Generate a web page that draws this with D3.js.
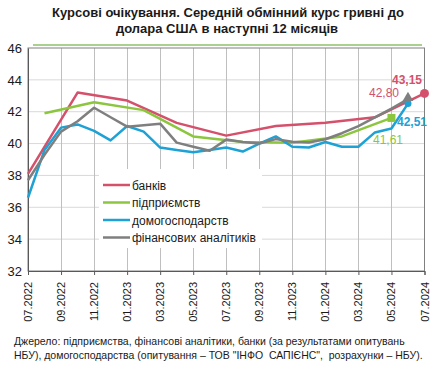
<!DOCTYPE html>
<html lang="uk">
<head>
<meta charset="UTF-8">
<title>Курсові очікування</title>
<script src="https://d3js.org/d3.v7.min.js"></script>
<style>
  body { margin: 0; background: #fff; }
  text { font-family: "Liberation Sans", Arial, sans-serif; }
</style>
</head>
<body>
<div id="chart"></div>
<script>
// months from 07.2022 to 07.2024
const months = ["07.2022","08.2022","09.2022","10.2022","11.2022","12.2022",
  "01.2023","02.2023","03.2023","04.2023","05.2023","06.2023",
  "07.2023","08.2023","09.2023","10.2023","11.2023","12.2023",
  "01.2024","02.2024","03.2024","04.2024","05.2024","06.2024","07.2024"];

const banks = [38.1,null,null,43.2,null,null,42.7,null,null,41.3,null,null,
  40.5,null,null,41.1,null,null,41.3,null,null,41.65,null,null,43.15];
const enterprises = [null,41.9,null,null,42.6,null,null,42.1,null,null,40.45,null,
  null,40.1,null,null,40.05,null,null,40.45,null,null,41.61,null,null];
const households = [36.6,39.6,41.0,41.2,40.8,40.2,41.1,40.75,39.75,39.6,39.45,39.6,
  39.75,39.5,40.0,40.45,39.8,39.75,40.1,39.8,39.8,40.7,40.95,42.51,null];
const analysts = [37.7,39.3,40.75,41.4,42.25,41.65,41.06,41.15,41.25,40.06,39.8,39.55,
  40.25,40.1,40.0,40.28,40.12,40.07,40.27,40.65,41.1,41.65,42.2,42.8,null];

const seriesNames = ["банків","підприємств","домогосподарств","фінансових аналітиків"];
const yTicks = [32,34,36,38,40,42,44,46];

const colors = ["#d4506b","#8cc63f","#1ea1d4","#7f7f7f"];
const allSeries = [banks, enterprises, households, analysts];

const W = 435, H = 375;
const svg = d3.select("#chart").append("svg")
  .attr("width", W).attr("height", H);

const x = d3.scaleLinear().domain([0, months.length - 1]).range([28, 424.5]);
const y = d3.scaleLinear().domain([32, 46]).range([271, 48]);

// title
svg.append("text").attr("x", 228).attr("y", 17)
  .attr("text-anchor", "middle").attr("font-size", 13).attr("font-weight", "bold")
  .attr("fill", "#1a1a1a")
  .text("Курсові очікування. Середній обмінний курс гривні до");
svg.append("text").attr("x", 227).attr("y", 33)
  .attr("text-anchor", "middle").attr("font-size", 13).attr("font-weight", "bold")
  .attr("fill", "#1a1a1a")
  .text("долара США  в наступні 12 місяців");
svg.append("line").attr("x1", 33).attr("x2", 422).attr("y1", 45).attr("y2", 45)
  .attr("stroke", "#a9d08e").attr("stroke-width", 2);

// grid
const tickIdx = d3.range(0, months.length, 2);
svg.append("g").selectAll("line").data(yTicks.slice(1, -1)).join("line")
  .attr("x1", x(0)).attr("x2", x(24))
  .attr("y1", d => y(d)).attr("y2", d => y(d))
  .attr("stroke", "#d9d9d9");
svg.append("g").selectAll("line").data(tickIdx.slice(1, -1)).join("line")
  .attr("x1", d => Math.round(x(d)) + 0.5).attr("x2", d => Math.round(x(d)) + 0.5)
  .attr("y1", y(46)).attr("y2", y(32))
  .attr("stroke", "#bfbfbf");

// frame
svg.append("rect").attr("x", x(0)).attr("y", y(46))
  .attr("width", x(24) - x(0)).attr("height", y(32) - y(46))
  .attr("fill", "none").attr("stroke", "#808080");

// y axis
const yAxis = svg.append("g").attr("transform", `translate(${x(0)},0)`)
  .call(d3.axisLeft(y).tickValues(yTicks).tickSize(0).tickPadding(6));
yAxis.select(".domain").attr("stroke", "#595959");
yAxis.selectAll("text").attr("font-size", 13).attr("fill", "#1a1a1a")
  .style("font-family", "'Liberation Sans', Arial, sans-serif");

// x axis
const xAxis = svg.append("g").attr("transform", `translate(0,${y(32)})`)
  .call(d3.axisBottom(x).tickValues(tickIdx).tickSize(4).tickFormat(""));
xAxis.select(".domain").attr("stroke", "#595959");
xAxis.selectAll("line").attr("stroke", "#595959");
svg.append("g").selectAll("text").data(tickIdx).join("text")
  .attr("transform", d => `translate(${x(d) + 4},282) rotate(-90)`)
  .attr("text-anchor", "end").attr("font-size", 11).attr("fill", "#1a1a1a")
  .text(d => months[d]);

// legend box (under the lines)
svg.append("rect").attr("x", 99).attr("y", 169).attr("width", 163).attr("height", 79)
  .attr("fill", "#fff");
const leg = svg.append("g").selectAll("g").data(seriesNames).join("g")
  .attr("transform", (d, i) => `translate(103,${185 + i * 17.5})`);
leg.append("line").attr("x1", 0).attr("x2", 27)
  .attr("stroke", (d, i) => colors[i]).attr("stroke-width", 2.5);
leg.append("text").attr("x", 29).attr("y", 4.5).attr("font-size", 12)
  .attr("fill", "#1a1a1a").text(d => d);

// lines
const line = d3.line().x(d => x(d.i)).y(d => y(d.v));
allSeries.forEach((s, k) => {
  const pts = s.map((v, i) => ({ i, v })).filter(d => d.v != null);
  svg.append("path").datum(pts).attr("d", line)
    .attr("fill", "none").attr("stroke", colors[k]).attr("stroke-width", 2.5)
    .attr("stroke-linejoin", "round");
});

// end markers
const last = s => { const i = d3.max(s.map((v, i) => v != null ? i : -1)); return { i, v: s[i] }; };
const b = last(banks), e = last(enterprises), h = last(households), a = last(analysts);
svg.append("circle").attr("cx", x(b.i)).attr("cy", y(b.v)).attr("r", 4.5).attr("fill", colors[0]);
svg.append("rect").attr("x", x(e.i) - 4).attr("y", y(e.v) - 4).attr("width", 8).attr("height", 8)
  .attr("fill", colors[1]);
svg.append("circle").attr("cx", x(h.i)).attr("cy", y(h.v)).attr("r", 3.5).attr("fill", colors[2]);
svg.append("path").attr("d", d3.symbol(d3.symbolTriangle, 50)())
  .attr("transform", `translate(${x(a.i)},${y(a.v) - 1})`).attr("fill", colors[3]);

// value labels
const fmt = v => v.toFixed(2).replace(".", ",");
svg.append("text").attr("x", 392).attr("y", 84).attr("font-size", 12).attr("font-weight", "bold")
  .attr("fill", colors[0]).text(fmt(b.v));
svg.append("text").attr("x", 369).attr("y", 97).attr("font-size", 12)
  .attr("fill", colors[0]).text(fmt(a.v));
svg.append("text").attr("x", 397).attr("y", 126).attr("font-size", 12).attr("font-weight", "bold")
  .attr("fill", colors[2]).text(fmt(h.v));
svg.append("text").attr("x", 373).attr("y", 144).attr("font-size", 12)
  .attr("fill", colors[1]).text(fmt(e.v));

// source
svg.append("text").attr("x", 14).attr("y", 345).attr("font-size", 10.5).attr("fill", "#1a1a1a")
  .text("Джерело: підприємства, фінансові аналітики, банки (за результатами опитувань");
svg.append("text").attr("x", 14).attr("y", 359).attr("font-size", 10.5).attr("fill", "#1a1a1a")
  .attr("xml:space", "preserve").style("white-space", "pre")
  .text("НБУ), домогосподарства (опитування – ТОВ \"ІНФО  САПІЄНС\",  розрахунки – НБУ).");
</script>
</body>
</html>
